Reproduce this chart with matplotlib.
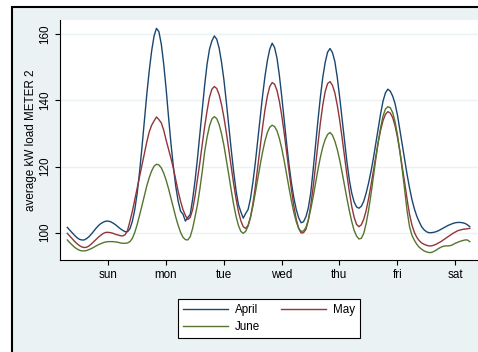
import matplotlib
matplotlib.use("Agg")
import matplotlib.pyplot as plt
from matplotlib.patches import Rectangle

# hour of the week, sunday 00:00 = 0
hours = list(range(168))

april = [
    101.6, 100.8, 100.0, 99.2, 98.5, 98.0, 97.8, 97.8, 98.2, 98.8, 99.6, 100.5,
    101.4, 102.2, 102.8, 103.2, 103.5, 103.5, 103.3, 102.9, 102.4, 101.8, 101.2, 100.7,
    100.3, 100.3, 101.2, 103.5, 107.0, 112.0, 118.5, 126.0, 134.0, 142.0, 149.0, 155.0,
    159.5, 161.8, 160.8, 157.0, 151.0, 143.5, 135.0, 127.0, 120.0, 114.0, 109.5, 106.5,
    105.6, 103.5, 104.6, 105.5, 110.1, 115.7, 122.4, 129.9, 137.5, 144.7, 151.0, 155.5,
    158.0, 159.5, 158.5, 155.8, 151.5, 146.1, 139.4, 132.3, 125.2, 118.6, 112.8, 108.5,
    106.3, 104.4, 105.8, 107.0, 110.3, 115.2, 121.1, 127.8, 134.6, 141.3, 147.2, 152.0,
    155.5, 157.3, 156.0, 152.8, 147.5, 141.0, 134.0, 127.0, 120.5, 115.0, 110.5, 107.0,
    104.5, 103.0, 103.3, 104.8, 107.5, 112.0, 119.0, 126.5, 134.0, 141.0, 147.0, 151.5,
    154.6, 155.7, 154.5, 151.8, 147.0, 141.0, 134.5, 128.0, 121.5, 116.0, 112.0, 109.3,
    107.8, 107.4, 108.0, 109.5, 112.0, 115.0, 118.5, 122.5, 127.0, 131.5, 136.0, 139.8,
    142.3, 143.4, 142.8, 141.3, 139.0, 135.5, 131.0, 126.5, 121.8, 117.5, 113.5, 110.0,
    107.2, 105.0, 103.3, 101.8, 100.9, 100.3, 100.0, 100.0, 100.1, 100.3, 100.6, 101.0,
    101.4, 101.8, 102.2, 102.5, 102.8, 103.0, 103.1, 103.1, 103.0, 102.8, 102.4, 101.8,
]

may = [
    99.8, 99.0, 98.2, 97.4, 96.7, 96.1, 95.7, 95.5, 95.6, 96.0, 96.6, 97.3,
    98.0, 98.7, 99.3, 99.8, 100.1, 100.1, 100.0, 99.8, 99.5, 99.3, 99.1, 99.0,
    99.4, 100.7, 103.5, 106.5, 110.0, 113.5, 117.0, 120.5, 124.0, 127.5, 130.5, 132.5,
    133.8, 135.0, 134.2, 133.2, 131.0, 128.0, 125.3, 122.5, 119.5, 116.0, 112.5, 109.5,
    107.0, 105.2, 104.0, 104.6, 107.0, 111.1, 116.2, 121.2, 126.8, 132.1, 136.9, 141.0,
    143.4, 144.2, 143.6, 141.7, 138.7, 134.8, 130.2, 125.1, 119.9, 114.9, 110.3, 106.4,
    103.6, 101.8, 101.3, 102.2, 104.7, 108.7, 113.8, 119.7, 125.8, 131.8, 137.1, 141.3,
    144.2, 145.4, 144.9, 143.0, 139.7, 135.3, 130.1, 124.3, 118.5, 113.0, 108.0, 104.0,
    101.3, 99.9, 100.0, 101.0, 103.8, 108.2, 113.8, 120.2, 126.9, 133.2, 138.6, 142.7,
    145.1, 145.7, 144.6, 142.3, 138.6, 134.1, 128.8, 123.2, 117.6, 112.5, 108.0, 104.7,
    102.5, 101.8, 102.4, 104.1, 106.7, 110.3, 114.3, 118.7, 123.2, 127.4, 131.0, 133.9,
    135.8, 136.6, 136.2, 134.8, 132.3, 128.8, 124.5, 119.8, 115.0, 110.0, 105.5, 102.3,
    100.1, 98.6, 97.6, 96.9, 96.5, 96.2, 96.0, 96.0, 96.2, 96.5, 96.9, 97.3,
    97.8, 98.3, 98.8, 99.3, 99.8, 100.2, 100.6, 100.8, 101.0, 101.1, 101.2, 101.3,
]

june = [
    97.8, 97.0, 96.3, 95.6, 95.1, 94.7, 94.5, 94.5, 94.6, 94.9, 95.2, 95.6,
    96.0, 96.4, 96.7, 97.0, 97.2, 97.3, 97.3, 97.3, 97.2, 97.1, 96.9, 96.8,
    96.8, 96.9, 97.3, 98.3, 100.1, 102.5, 105.3, 108.3, 111.3, 114.2, 116.7, 118.7,
    120.1, 120.7, 120.5, 119.6, 118.0, 115.9, 113.3, 110.4, 107.5, 104.7, 102.2, 100.1,
    98.6, 97.9, 97.8, 98.8, 101.3, 104.8, 108.5, 113.2, 118.6, 124.5, 128.9, 132.3,
    134.4, 135.1, 134.5, 132.7, 129.9, 126.3, 122.0, 117.5, 112.9, 108.6, 105.0, 102.2,
    100.4, 99.8, 100.4, 102.0, 104.6, 108.0, 112.0, 116.2, 120.4, 124.3, 127.7, 130.3,
    131.9, 132.5, 132.1, 130.8, 128.5, 125.4, 121.7, 117.6, 113.5, 109.6, 106.1, 103.3,
    101.3, 100.4, 100.5, 101.6, 103.8, 107.1, 110.8, 115.0, 119.1, 122.8, 125.9, 128.2,
    129.7, 130.3, 129.5, 127.7, 125.2, 122.0, 118.3, 114.3, 110.4, 106.7, 103.4, 100.7,
    99.0, 98.1, 98.3, 99.8, 102.8, 106.8, 111.6, 117.0, 122.3, 127.4, 131.8, 135.3,
    137.4, 138.1, 137.8, 136.3, 133.5, 129.5, 124.5, 118.8, 112.8, 106.5, 101.8, 99.2,
    97.7, 96.5, 95.6, 95.0, 94.5, 94.2, 94.0, 94.0, 94.3, 94.7, 95.2, 95.6,
    95.9, 96.0, 96.0, 96.1, 96.4, 96.8, 97.1, 97.4, 97.6, 97.8, 97.8, 97.3,
]

day_labels = ["sun", "mon", "tue", "wed", "thu", "fri", "sat"]
y_ticks = [100, 120, 140, 160]

plt.rcParams["font.family"] = ["Liberation Sans", "DejaVu Sans"]

fig = plt.figure(figsize=(4.78, 3.52), dpi=100)
fig.patch.set_facecolor("white")

# graph region: pale background with a black frame
frame = Rectangle((12 / 478, -0.2), 1.2, 1.2 - 7 / 352,
                  transform=fig.transFigure, facecolor="#eaf2f3",
                  edgecolor="black", lw=1.5, zorder=-1)
fig.add_artist(frame)

ax = fig.add_axes([60 / 478, 92 / 352, 418 / 478, 240 / 352])
ax.set_facecolor("white")

ax.plot(hours, april, color="#1a476f", lw=1.0, label="April")
ax.plot(hours, may, color="#90353b", lw=1.0, label="May")
ax.plot(hours, june, color="#55752f", lw=1.0, label="June")

ax.set_xlim(-3.03, 170.4)
ax.set_ylim(91.74, 164.32)

ax.set_xticks([16.9 + 24 * i for i in range(7)])
ax.set_xticklabels(day_labels)
ax.set_yticks(y_ticks)
ax.set_yticklabels([str(v) for v in y_ticks], rotation=90, va="center")

ax.grid(axis="y", color="#eaf2f3", lw=1.0)
ax.set_axisbelow(True)

for side in ("top", "right"):
    ax.spines[side].set_visible(False)
for side in ("left", "bottom"):
    ax.spines[side].set_color("black")
    ax.spines[side].set_linewidth(0.8)

ax.tick_params(axis="both", direction="out", length=3.6, width=0.8,
               color="black", labelsize=8.4, pad=3)

fig.text(31 / 478, 1 - 140 / 352, "average kW load METER 2", rotation=90,
         ha="center", va="center", fontsize=8.4)

# legend laid out row by row: April, May / June
h, l = ax.get_legend_handles_labels()
order = [0, 2, 1]
leg = fig.legend([h[i] for i in order], [l[i] for i in order], ncol=2,
                 loc="center", bbox_to_anchor=(269 / 478, 1 - 318.5 / 352),
                 bbox_transform=fig.transFigure, fontsize=8.4,
                 handlelength=3.86, handletextpad=0.63, columnspacing=1.72,
                 labelspacing=0.4, borderpad=0.45, fancybox=False,
                 framealpha=1, edgecolor="black")
leg.get_frame().set_linewidth(0.8)

fig.savefig("out.png", dpi=100, facecolor=fig.get_facecolor())
